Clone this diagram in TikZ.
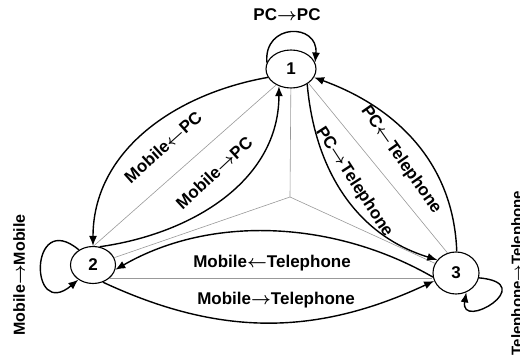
\documentclass[tikz,border=0pt]{standalone}
\usepackage{fontspec}
\setmainfont{Liberation Sans}
\usetikzlibrary{arrows.meta,shapes.geometric}
\newcommand{\myra}{{\boldmath$\rightarrow$}}
\newcommand{\myla}{{\boldmath$\leftarrow$}}
\begin{document}
\begin{tikzpicture}[x=1pt,y=1pt,
  st/.style={ellipse,draw,line width=1.1pt,inner sep=0pt,font=\bfseries\fontsize{17}{19}\selectfont},
  thinln/.style={draw=black!40,line width=0.6pt},
  arr/.style={draw,line width=1.4pt,-{Latex[length=10pt,width=8pt]}},
  lbl/.style={font=\bfseries\fontsize{17}{19}\selectfont,inner sep=0pt},
  vlbl/.style={font=\bfseries\fontsize{16}{18}\selectfont,inner sep=0pt,rotate=90,anchor=north}]
\useasboundingbox (0,0) rectangle (520,356);
\node[st,minimum width=50pt,minimum height=38pt] (n1) at (291,287) {1};
\node[st,minimum width=45pt,minimum height=37pt] (n2) at (93,91) {2};
\node[st,minimum width=46pt,minimum height=42pt] (n3) at (456,83) {3};
\coordinate (c) at (290,159);
% thin lines
\draw[thinln] (c) -- (n1);
\draw[thinln] (c) -- (n2);
\draw[thinln] (c) -- (n3);
\draw[thinln] (n1.227) -- (n2.88);
\draw[thinln] (n1.321) -- (n3.113);
\draw[thinln] (n2.-39) -- (n2.-39 -| n3.west);
% arcs
\draw[arr] (n1.200) to[out=190,in=90] (n2.north);
\draw[arr] (n2.70) to[out=8,in=-90] (n1.235);
\draw[arr] (n1.-43) to[out=-85,in=163] (n3.145);
\draw[arr] (n3.88) to[out=92,in=-20] (n1.-20);
\draw[arr] (n3.190) to[out=150,in=30,looseness=0.9] (n2.-12);
\draw[arr] (n2.-60) to[out=-25,in=205] (n3.200);
% loops
\draw[arr] (n1.165) .. controls +(95:40) and +(85:40) .. (n1.15);
\draw[arr] (n2.133) .. controls +(140:65) and +(220:65) .. (n2.225);
\draw[arr] (n3.-12) .. controls +(-5:62) and +(-100:40) .. (n3.-62);
% labels
\node[lbl] (l11) at (287,341) {PC\myra PC};
\node[lbl,rotate=42] (l12) at (163,209) {Mobile\myla PC};
\node[lbl,rotate=43] (l21) at (214,183) {Mobile\myra PC};
\node[lbl,rotate=-57] (l13) at (354,174) {PC\myra Telephone};
\node[lbl,rotate=-55] (l31) at (401,196) {PC\myla Telephone};
\node[lbl] (l32) at (272,93) {Mobile\myla Telephone};
\node[lbl] (l23) at (276,56) {Mobile\myra Telephone};
\node[vlbl] (l22) at (13,81) {Mobile\myra Mobile};
\node[vlbl,font=\bfseries\fontsize{15}{17}\selectfont] (l33) at (511,83) {Telephone\myra Telephone};
\end{tikzpicture}
\end{document}
